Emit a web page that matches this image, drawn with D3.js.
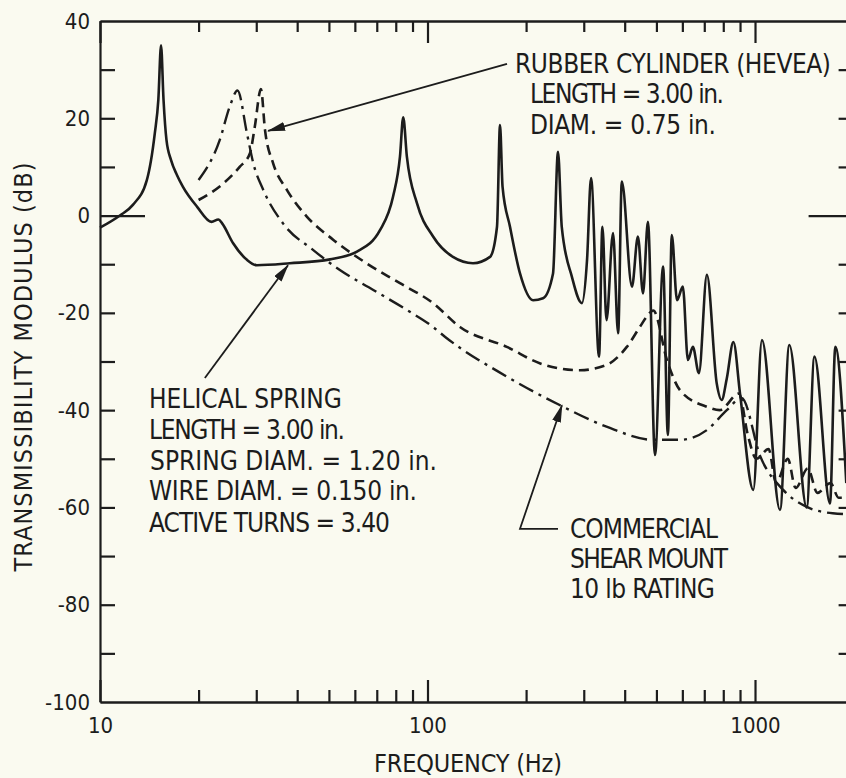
<!DOCTYPE html>
<html>
<head>
<meta charset="utf-8">
<script src="https://cdn.jsdelivr.net/npm/d3@7"></script>
<style>
  html, body { margin: 0; padding: 0; background: #fafaf0; }
  svg { display: block; }
  text { font-family: "Liberation Sans Narrow", "DejaVu Sans Condensed", "Arial Narrow", sans-serif; fill: #1c1c1c; }
</style>
</head>
<body>
<svg id="chart" width="846" height="778"></svg>
<script>
// Helical spring (solid line)
const helicalFreq = [10, 11.5, 12.6, 13.9, 14.7, 15.07, 15.36, 15.63, 15.96, 16.48, 17.19, 17.92, 19.8, 21.9, 23.0, 23.6, 25.5, 28.1, 30.1, 38, 50.4, 60.9, 71.6, 78.5, 82.4, 84.3, 86.5, 92.9, 104, 119.6, 137.7, 155.2, 163, 166.5, 169.5, 178.6, 191.6, 210, 225.3, 241.7, 250.3, 257, 276, 296, 307, 315.7, 334, 342, 352, 368.5, 382, 392, 421, 439, 455, 471, 495, 524, 542, 557, 578, 602, 624, 646, 674, 713, 764, 791, 820, 859, 900, 988, 1050, 1192, 1273, 1438, 1519, 1694, 1759, 1900];
const helicalDb   = [-2.5, 0, 2.2, 7.3, 16.9, 23.8, 35, 23.8, 15.5, 11.4, 8.3, 5.9, 1.8, -1.3, -0.8, -1.6, -5.7, -9.1, -10.2, -9.8, -9.0, -7.4, -3.0, 3.9, 12.1, 20.2, 12.1, 2.5, -4.3, -8.5, -9.8, -8.5, -2.3, 18.6, 5.9, -2.3, -11.9, -17.4, -17.0, -11.9, 13.1, -2.3, -12.6, -18.0, -9.1, 7.7, -29.0, -2.3, -21.5, -3.6, -24.2, 7.0, -14.6, -4.3, -16.0, -1.3, -49.2, -10.5, -45.1, -4.0, -17.4, -14.6, -29.7, -27, -32.4, -12.2, -34.5, -37.9, -33.5, -26, -36.6, -56.4, -25.6, -60.5, -26.6, -60.0, -29.0, -59.2, -27.0, -55];

// Rubber cylinder (dashed line)
const rubberFreq = [20, 23.8, 26.7, 28.7, 29.7, 31.0, 31.9, 33.8, 37.2, 42.8, 51.6, 65.1, 82.4, 104, 125.6, 174.6, 220.9, 292, 352, 406, 445, 467, 489, 540, 590, 713, 780, 893, 950, 1010, 1100, 1160, 1260, 1330, 1450, 1550, 1700, 1800, 1950];
const rubberDb   = [3.2, 6.6, 10, 12.8, 18.3, 26, 17.6, 10.7, 5.3, -0.2, -5.0, -9.8, -13.9, -18.0, -22.9, -27, -30.4, -31.8, -30.7, -27, -22.9, -20.8, -19.5, -30, -35.9, -39.3, -40, -36.6, -45, -50, -48, -55, -50, -56, -52, -57, -55, -58, -58];

// Commercial shear mount (dash-dot line)
const shearFreq = [20, 23.2, 24.9, 26.3, 28.1, 29.4, 31.5, 36.2, 44.8, 54, 68.3, 86.5, 104, 113, 174.6, 254, 352, 489, 590, 713, 820, 910, 1039, 1219, 1440, 1727, 1950];
const shearDb   = [7.3, 15.5, 22.4, 25.7, 16.9, 10.7, 5.3, -1.6, -7.1, -11.2, -15.3, -19.4, -22.9, -24.9, -33.1, -39, -43.4, -46.1, -46.1, -44.1, -40, -37.5, -49.6, -56.4, -59.9, -61.2, -61.4];

// Axis ticks
const yTickValues = [-90, -80, -70, -60, -50, -40, -30, -20, -10, 0, 10, 20, 30];
const yLabelValues = [40, 20, 0, -20, -40, -60, -80, -100];
const yLabelText = ["40", "20", "0", "-20", "-40", "-60", "-80", "-100"];
const xMajorTicks = [10, 100, 1000];
const xMajorLabels = ["10", "100", "1000"];
const xMinorTicks = [20, 30, 40, 50, 60, 70, 80, 90, 200, 300, 400, 500, 600, 700, 800, 900];

const ink = "#1c1c1c";
const svg = d3.select("#chart");

const x = d3.scaleLog().domain([10, 2000]).range([100, 853.6]);
const y = d3.scaleLinear().domain([-100, 40]).range([702, 21]);

function styleAxis(g, width) {
  g.selectAll("path.domain").attr("stroke", ink).attr("stroke-width", width);
  g.selectAll(".tick line").attr("stroke", ink).attr("stroke-width", width);
  g.selectAll(".tick text").attr("fill", ink).attr("font-size", 22);
}

// bottom axis
const bMinor = svg.append("g").attr("transform", `translate(0,${y(-100)})`)
  .call(d3.axisBottom(x).tickValues(xMinorTicks).tickSize(-12).tickSizeOuter(0).tickFormat(""));
styleAxis(bMinor, 2.2);
const bMajor = svg.append("g").attr("transform", `translate(0,${y(-100)})`)
  .call(d3.axisBottom(x).tickValues(xMajorTicks).tickSize(-22).tickSizeOuter(0).tickPadding(15)
    .tickFormat(d => xMajorLabels[xMajorTicks.indexOf(d)]));
styleAxis(bMajor, 2.2);

// top axis
const tMinor = svg.append("g").attr("transform", `translate(0,${y(40)})`)
  .call(d3.axisTop(x).tickValues(xMinorTicks).tickSize(-11).tickSizeOuter(0).tickFormat(""));
styleAxis(tMinor, 2.2);
const tMajor = svg.append("g").attr("transform", `translate(0,${y(40)})`)
  .call(d3.axisTop(x).tickValues(xMajorTicks).tickSize(-22).tickSizeOuter(0).tickFormat(""));
styleAxis(tMajor, 2.2);

// left axis
const lAxis = svg.append("g").attr("transform", `translate(${x(10)},0)`)
  .call(d3.axisLeft(y).tickValues(yTickValues).tickSize(-15).tickSizeOuter(0).tickFormat(""));
styleAxis(lAxis, 2.2);
lAxis.selectAll(".tick").filter(d => d === 0).select("line").attr("x2", 45);
const lLabels = svg.append("g").attr("transform", `translate(${x(10)},0)`)
  .call(d3.axisLeft(y).tickValues(yLabelValues).tickSize(0).tickSizeOuter(0).tickPadding(10)
    .tickFormat(d => yLabelText[yLabelValues.indexOf(d)]));
lLabels.select("path.domain").remove();
styleAxis(lLabels, 2.2);

// right axis
const rAxis = svg.append("g").attr("transform", `translate(${x(2000)},0)`)
  .call(d3.axisRight(y).tickValues(yTickValues).tickSize(-15).tickSizeOuter(0).tickFormat(""));
styleAxis(rAxis, 2.2);
rAxis.selectAll(".tick").filter(d => d === 0).select("line").attr("x2", -45);

// axis titles
svg.append("text").attr("x", 468).attr("y", 772).attr("text-anchor", "middle")
  .attr("font-size", 25).attr("textLength", 188).attr("lengthAdjust", "spacing")
  .text("FREQUENCY (Hz)");
svg.append("text").attr("transform", "translate(32,367) rotate(-90)").attr("text-anchor", "middle")
  .attr("font-size", 25).attr("textLength", 409).attr("lengthAdjust", "spacing")
  .text("TRANSMISSIBILITY MODULUS (dB)");

// curves
const zip = (fs, ds) => fs.map((f, i) => ({ f, db: ds[i] }));
const line = d3.line().x(d => x(d.f)).y(d => y(d.db)).curve(d3.curveMonotoneX);

const plot = svg.append("g");
plot.append("path").datum(zip(shearFreq, shearDb)).attr("d", line)
  .attr("fill", "none").attr("stroke", ink).attr("stroke-width", 2.4)
  .attr("stroke-dasharray", "16,6,3,6");
plot.append("path").datum(zip(rubberFreq, rubberDb)).attr("d", line)
  .attr("fill", "none").attr("stroke", ink).attr("stroke-width", 2.6)
  .attr("stroke-dasharray", "10,6");
plot.append("path").datum(zip(helicalFreq, helicalDb)).attr("d", line)
  .attr("fill", "none").attr("stroke", ink).attr("stroke-width", 2.6)
  .attr("stroke-linejoin", "round");

// arrowheads
svg.append("defs").append("marker").attr("id", "arrowhead")
  .attr("viewBox", "0 0 18 9").attr("refX", 17).attr("refY", 4.5)
  .attr("markerUnits", "userSpaceOnUse").attr("markerWidth", 18).attr("markerHeight", 9)
  .attr("orient", "auto")
  .append("path").attr("d", "M0,0L18,4.5L0,9Z").attr("fill", ink);

function leader(points) {
  svg.append("path")
    .attr("d", d3.line().x(p => x(p[0])).y(p => y(p[1]))(points))
    .attr("fill", "none").attr("stroke", ink).attr("stroke-width", 1.8)
    .attr("marker-end", "url(#arrowhead)");
}
// rubber cylinder leader
leader([[174.9, 31.2], [32.6, 17.4]]);
// helical spring leader
leader([[20.9, -33.4], [37.5, -10.2]]);
// commercial shear mount leader
leader([[250.3, -64.4], [191.6, -64.4], [257.4, -39]]);

// annotation text
function block(lines) {
  lines.forEach(([t, px, py, w]) => {
    svg.append("text").attr("x", px).attr("y", py).attr("font-size", 26)
      .attr("textLength", w).attr("lengthAdjust", "spacing").text(t);
  });
}
block([
  ["RUBBER CYLINDER (HEVEA)", 515, 73, 316],
  ["LENGTH = 3.00 in.", 530, 103, 194],
  ["DIAM. = 0.75 in.", 530, 134, 186]
]);
block([
  ["HELICAL SPRING", 149, 408, 193],
  ["LENGTH = 3.00 in.", 149, 439, 196],
  ["SPRING DIAM. = 1.20 in.", 150, 470, 287],
  ["WIRE DIAM. = 0.150 in.", 149, 500, 268],
  ["ACTIVE TURNS = 3.40", 149, 532, 241]
]);
block([
  ["COMMERCIAL", 570, 538, 148],
  ["SHEAR MOUNT", 570, 568, 158],
  ["10 lb RATING", 570, 598, 145]
]);
</script>
</body>
</html>
